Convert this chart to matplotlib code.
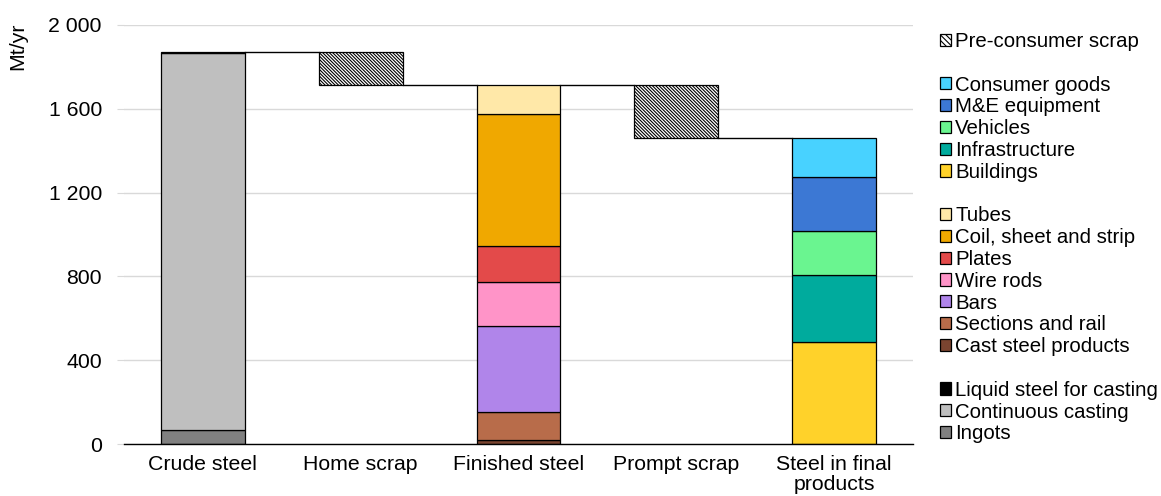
import matplotlib
matplotlib.use("Agg")
import matplotlib.pyplot as plt
from matplotlib.patches import Patch
import numpy as np

plt.rcParams['font.family'] = ['Liberation Sans', 'DejaVu Sans']
plt.rcParams['hatch.linewidth'] = 0.8

categories = ["Crude steel", "Home scrap", "Finished steel", "Prompt scrap", "Steel in final\nproducts"]

# Crude steel components (Mt/yr)
crude_labels = ["Ingots", "Continuous casting", "Liquid steel for casting"]
crude_values = [65, 1801, 5]
crude_colors = ["#808080", "#bfbfbf", "#000000"]

# Scrap losses
home_scrap = 157
prompt_scrap = 252

# Finished steel components
finished_labels = ["Cast steel products", "Sections and rail", "Bars", "Wire rods",
                   "Plates", "Coil, sheet and strip", "Tubes"]
finished_values = [19, 133, 410, 209, 172, 633, 138]
finished_colors = ["#7a4430", "#b86c4a", "#b085ea", "#ff94c8", "#e34a4a", "#f0a800", "#ffe8a8"]

# Steel in final products
final_labels = ["Buildings", "Infrastructure", "Vehicles", "M&E equipment", "Consumer goods"]
final_values = [486, 319, 214, 257, 186]
final_colors = ["#ffd22a", "#00ab9d", "#6af590", "#3c78d4", "#48d2ff"]

yticks = [0, 400, 800, 1200, 1600, 2000]

W, H = 1161, 496
fig = plt.figure(figsize=(W / 100, H / 100), dpi=100)
ax = fig.add_axes([124 / W, 1 - 444 / H, (913 - 124) / W, (444 - 25) / H])

x = np.arange(len(categories))
bw = 0.53
ec = "#000000"
lw = 0.9
FS = 15.3
LFS = 14.7
HATCH = "\\" * 10

def stack(xi, values, colors):
    bottom = 0
    for v, c in zip(values, colors):
        ax.bar(xi, v, bw, bottom=bottom, color=c, edgecolor=ec, linewidth=lw, zorder=3)
        bottom += v
    return bottom

crude_total = stack(x[0], crude_values, crude_colors)
finished_total = stack(x[2], finished_values, finished_colors)
final_total = stack(x[4], final_values, final_colors)

ax.bar(x[1], home_scrap, bw, bottom=crude_total - home_scrap, color="white",
       edgecolor=ec, hatch=HATCH, linewidth=lw, zorder=3)
ax.bar(x[3], prompt_scrap, bw, bottom=finished_total - prompt_scrap, color="white",
       edgecolor=ec, hatch=HATCH, linewidth=lw, zorder=3)

levels = [crude_total, crude_total - home_scrap, finished_total, finished_total - prompt_scrap]
for i, lv in enumerate(levels):
    ax.plot([x[i] + bw / 2, x[i + 1] - bw / 2], [lv, lv], color="#000000", lw=1.0, zorder=2)

ax.set_xlim(-0.5, len(categories) - 0.5)
ax.set_ylim(0, 2000)
ax.set_yticks(yticks)
ax.set_yticklabels([f"{v:,}".replace(",", " ") for v in yticks], fontsize=FS)
ax.set_xticks(x)
ax.set_xticklabels(categories, fontsize=FS, linespacing=1.05)
ax.tick_params(axis="x", length=0, pad=8)
ax.tick_params(axis="y", length=5, color="#d9d9d9", pad=11)
ax.yaxis.grid(True, color="#d9d9d9", linewidth=1.0, zorder=0)
ax.set_axisbelow(True)
for s in ["top", "right", "left"]:
    ax.spines[s].set_visible(False)
ax.spines["bottom"].set_color("#000000")
ax.spines["bottom"].set_linewidth(1.0)
ax.spines["bottom"].set_zorder(4)

ax.set_ylabel("Mt/yr", fontsize=FS)
ax.yaxis.set_label_coords(-0.123, 0.95)

blank = Patch(facecolor="none", edgecolor="none", label=" ")
def sq(c, label, hatch=None):
    return Patch(facecolor=c, edgecolor=ec, linewidth=0.9, hatch=hatch, label=label)

handles = [sq("white", "Pre-consumer scrap", hatch="\\" * 6), blank]
for lab, c in reversed(list(zip(final_labels, final_colors))):
    handles.append(sq(c, lab))
handles.append(blank)
for lab, c in reversed(list(zip(finished_labels, finished_colors))):
    handles.append(sq(c, lab))
handles.append(blank)
for lab, c in reversed(list(zip(crude_labels, crude_colors))):
    handles.append(sq(c, lab))

fig.legend(handles=handles, loc="upper left", bbox_to_anchor=(940 / W, 1 - 32 / H),
           frameon=False, fontsize=LFS, handlelength=0.54, handleheight=0.54,
           handletextpad=0.2, labelspacing=0.137, borderpad=0, borderaxespad=0)

fig.savefig("out.png", dpi=100)
